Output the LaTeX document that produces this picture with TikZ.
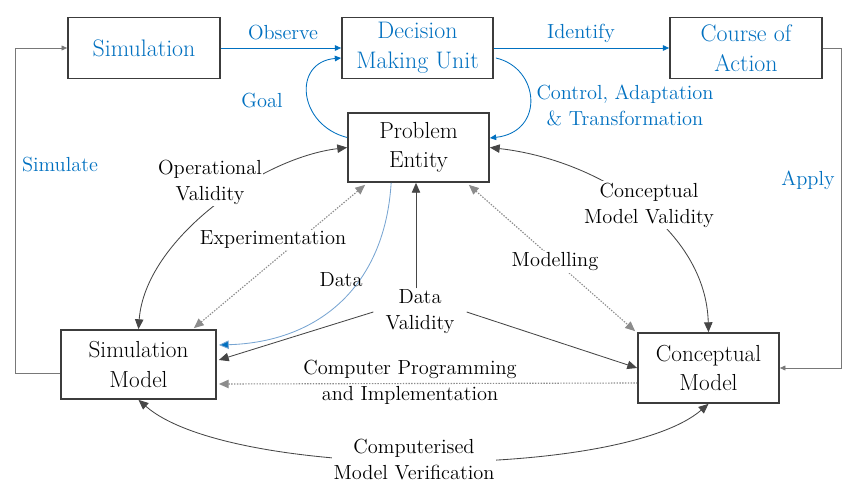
\documentclass[tikz,border=0pt]{standalone}
\usetikzlibrary{arrows.meta,calc}

\definecolor{wordblue}{RGB}{0,112,192}
\definecolor{edgegrey}{RGB}{60,60,60}
\definecolor{linkgrey}{RGB}{70,70,70}
\definecolor{dotgrey}{RGB}{140,140,140}
\definecolor{loopgrey}{RGB}{120,120,120}
\definecolor{datablue}{RGB}{120,165,210}

\tikzset{
  box/.style={draw=edgegrey, line width=1.2pt, fill=white, align=center,
    font=\rmfamily\fontsize{16.5}{21}\selectfont, inner sep=0pt},
  bluebox/.style={box, text=wordblue, font=\rmfamily\fontsize{17}{21}\selectfont},
  lbl/.style={align=center, font=\rmfamily\fontsize{14.5}{18.5}\selectfont, inner sep=1pt},
  bluelbl/.style={lbl, text=wordblue},
  bigtip/.style={-{Triangle[length=7pt,width=6pt]}},
  twotip/.style={{Triangle[length=7pt,width=6pt]}-{Triangle[length=7pt,width=6pt]}},
  link/.style={draw=linkgrey, line width=0.6pt},
  dotlink/.style={draw=dotgrey, line width=0.8pt, dash pattern=on 1pt off 1pt},
  bluelink/.style={draw=wordblue, line width=0.6pt, -{Triangle[length=4.5pt,width=4pt]}},
  looplink/.style={draw=loopgrey, line width=0.6pt, -{Triangle[length=4pt,width=3.5pt]}},
}

\begin{document}
\begin{tikzpicture}[x=0.025cm, y=-0.025cm]
  \useasboundingbox (0,0) rectangle (843,485);

  % boxes
  \node[bluebox, minimum width=3.8cm,   minimum height=1.525cm] (sim) at (144,48)    {Simulation};
  \node[bluebox, minimum width=3.775cm, minimum height=1.525cm] (dmu) at (417.5,48)  {Decision\\Making Unit};
  \node[bluebox, minimum width=3.8cm,   minimum height=1.525cm] (coa) at (746,48)    {Course of\\Action};
  \node[box,     minimum width=3.525cm, minimum height=1.725cm] (pe)  at (418.5,147.5) {Problem\\Entity};
  \node[box,     minimum width=3.875cm, minimum height=1.725cm] (sm)  at (138.5,364.5) {Simulation\\Model};
  \node[box,     minimum width=3.525cm, minimum height=1.75cm]  (cm)  at (708.5,368) {Conceptual\\Model};

  % turning points of the outer loops
  \coordinate (lft) at (15,0);
  \coordinate (rgt) at (841,0);
  \coordinate (smL) at ($(sm.west)+(0,8.5)$);

  % upper row
  \draw[bluelink] (sim.east) -- (dmu.west);
  \draw[bluelink] (dmu.east) -- (coa.west);
  \node[bluelbl] (obs) at (283,33) {Observe};
  \node[bluelbl] (idf) at (581,33) {Identify};

  % outer loops
  \draw[looplink] (smL) -- (smL -| lft) -- (lft |- sim.west) -- (sim.west);
  \draw[looplink] (coa.east) -- (coa.east -| rgt) -- (rgt |- cm.east) -- (cm.east);
  \node[bluelbl] (simu) at (60,165) {Simulate};
  \node[bluelbl] (appl) at (808,180) {Apply};

  % goal and control loops
  \draw[bluelink] ($(pe.west)+(0,-10)$) .. controls (298,125) and (292,62) .. ($(dmu.west)+(0,10)$);
  \draw[bluelink] ($(dmu.east)+(2,10)$) .. controls (540,68) and (545,132) .. ($(pe.east)+(0,-9.5)$);
  \node[bluelbl] (goal) at (262,101) {Goal};
  \node[bluelbl] (ctrl) at (625,105) {Control, Adaptation\\\& Transformation};

  % data
  \draw[draw=datablue, line width=0.6pt, -{Triangle[length=7pt,width=6pt,fill=wordblue]}]
    ($(pe.south west)+(44,0)$) .. controls (385,285) and (320,342) .. ($(sm.east)+(2,-19.5)$);
  \node[lbl] (data) at (341,280) {Data};

  % computer programming and implementation
  \draw[dotlink, {Triangle[length=7pt,width=6pt]}-] ($(sm.east)+(2,19.5)$) -- ($(cm.west)+(0,15)$);
  \node[lbl] (cpi) at (410,382) {Computer Programming\\and Implementation};

  % labelled arcs, labels sit on top of them
  \draw[link, twotip] (sm.north) .. controls (145,240) and (260,158) .. (pe.west);
  \draw[dotlink, twotip] ($(sm.north east)+(-23,-1)$) -- ($(pe.south west)+(18,2)$);
  \draw[link, twotip] (pe.east) .. controls (600,160) and (706,230) .. (cm.north);
  \draw[dotlink, twotip] ($(pe.south east)+(-21,2)$) -- ($(cm.north west)+(-2,-1)$);
  \draw[link, twotip] (sm.south) .. controls (230,480) and (620,480) .. (cm.south);

  \node[lbl, fill=white] (opv) at (210,182) {Operational\\Validity};
  \node[lbl, fill=white] (exp) at (273,240) {Experimentation};
  \node[lbl, fill=white] (cmv) at (649,205) {Conceptual\\Model Validity};
  \node[lbl, fill=white] (mod) at (555,262) {Modelling};
  \node[lbl, fill=white] (cmvf) at (414,460) {Computerised\\Model Verification};

  % data validity
  \node[lbl, inner xsep=0.3cm] (dv) at (420,312) {Data\\Validity};
  \coordinate (dvtop) at ($(dv.north)+(-4,0)$);
  \draw[link, bigtip] (dvtop) -- (dvtop |- pe.south);
  \draw[link, bigtip] (dv.west) -- ($(sm.east)+(2,-4.5)$);
  \draw[link, bigtip] (dv.east) -- (cm.west);
\end{tikzpicture}
\end{document}
